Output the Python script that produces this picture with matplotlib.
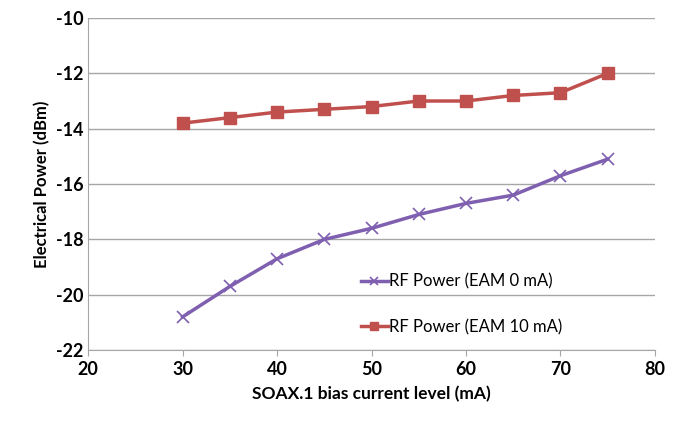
import matplotlib.pyplot as plt

plt.rcParams['font.family'] = ['Lato', 'DejaVu Sans']
plt.rcParams['axes.unicode_minus'] = False

bias_ma = [30, 35, 40, 45, 50, 55, 60, 65, 70, 75]
rf_eam0 = [-20.8, -19.7, -18.7, -18.0, -17.6, -17.1, -16.7, -16.4, -15.7, -15.1]
rf_eam10 = [-13.8, -13.6, -13.4, -13.3, -13.2, -13.0, -13.0, -12.8, -12.7, -12.0]

fig = plt.figure(figsize=(6.78, 4.28), dpi=100)
ax = fig.add_axes([0.13, 0.182, 0.836, 0.776])

ax.plot(bias_ma, rf_eam0, color='#7F5FAF', lw=2.5, marker='x', ms=9, mew=1.2,
        label='RF Power (EAM 0 mA)')
ax.plot(bias_ma, rf_eam10, color='#C0504D', lw=2.5, marker='s', ms=8,
        label='RF Power (EAM 10 mA)')

ax.set_xlim(20, 80)
ax.set_ylim(-22, -10)
ax.set_xticks(range(20, 81, 10))
ax.set_yticks(range(-22, -9, 2))
ax.yaxis.grid(True, color='#A6A6A6', lw=1)
ax.set_axisbelow(True)
for s in ['top', 'right']:
    ax.spines[s].set_visible(False)
for s in ['left', 'bottom']:
    ax.spines[s].set_color('#A6A6A6')
ax.tick_params(axis='both', labelsize=13, colors='#A6A6A6', labelcolor='black', length=4)
ax.tick_params(axis='y', length=0)
for lab in ax.get_xticklabels() + ax.get_yticklabels():
    lab.set_fontweight('bold')

ax.set_xlabel('SOAX.1 bias current level (mA)', fontsize=12.5, fontweight='bold', labelpad=6)
ax.set_ylabel('Electrical Power (dBm)', fontsize=12, fontweight='bold', labelpad=4)

leg = ax.legend(loc='lower left', bbox_to_anchor=(0.455, 0.0), frameon=False, fontsize=12,
                handlelength=1.6, handletextpad=0.1, labelspacing=1.75, markerscale=0.7)

fig.savefig('out.png', dpi=100, facecolor='white')
